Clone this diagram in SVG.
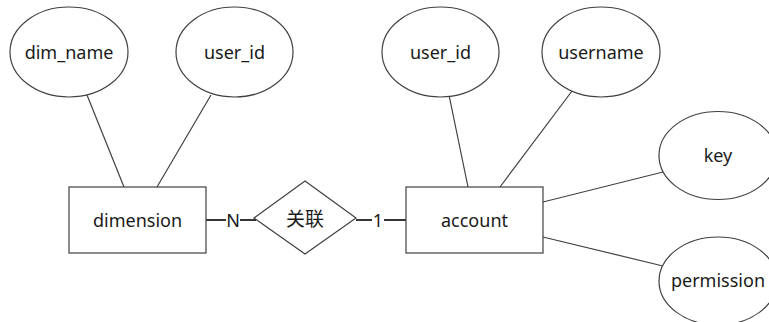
<svg xmlns="http://www.w3.org/2000/svg" width="769" height="322" viewBox="0 0 769 322">
  <style>
    .shape { fill: #ffffff; stroke: #404040; stroke-width: 1.2; }
    .edge { stroke: #404040; stroke-width: 1.2; fill: none; }
    .rel { stroke: #202020; stroke-width: 1.8; fill: none; }
    text { font-family: "Noto Sans", "Open Sans", "Noto Sans CJK SC", sans-serif; font-size: 18px; fill: #1a1a1a; text-anchor: middle; dominant-baseline: central; }
    .cjk { font-family: "Noto Sans CJK SC", sans-serif; font-size: 19px; }
  </style>
  <rect width="769" height="322" fill="#ffffff"/>

  <g id="connectors">
    <line class="edge" x1="87" y1="95" x2="124" y2="187"/>
    <line class="edge" x1="211" y1="95" x2="157" y2="187"/>
    <line class="edge" x1="449" y1="95" x2="468" y2="187"/>
    <line class="edge" x1="572" y1="91" x2="500" y2="187"/>
    <line class="edge" x1="543" y1="202" x2="663" y2="172"/>
    <line class="edge" x1="543" y1="237" x2="663" y2="266"/>
    <line class="rel" x1="206" y1="220" x2="226" y2="220"/>
    <line class="rel" x1="240" y1="220" x2="256" y2="220"/>
    <line class="rel" x1="356" y1="220" x2="372" y2="220"/>
    <line class="rel" x1="384" y1="220" x2="406" y2="220"/>
    <text x="233" y="220">N</text>
    <text x="378" y="220">1</text>
  </g>

  <g id="dimension">
    <rect class="shape" x="69" y="187" width="137" height="66"/>
    <text x="137.5" y="220">dimension</text>
  </g>

  <g id="dim_name">
    <ellipse class="shape" cx="69" cy="52" rx="59" ry="45"/>
    <text x="69" y="52">dim_name</text>
  </g>

  <g id="dimension_user_id">
    <ellipse class="shape" cx="234.5" cy="52" rx="58.5" ry="45"/>
    <text x="234.5" y="52">user_id</text>
  </g>

  <g id="relation">
    <polygon class="shape" points="305,181 356,218 305,254 254,218"/>
    <text class="cjk" x="305" y="217">关联</text>
  </g>

  <g id="account">
    <rect class="shape" x="406" y="187" width="137" height="66"/>
    <text x="474.5" y="220">account</text>
  </g>

  <g id="account_user_id">
    <ellipse class="shape" cx="440.5" cy="52" rx="58.5" ry="45"/>
    <text x="440.5" y="52">user_id</text>
  </g>

  <g id="username">
    <ellipse class="shape" cx="601" cy="52" rx="59" ry="45"/>
    <text x="601" y="52">username</text>
  </g>

  <g id="key">
    <ellipse class="shape" cx="718" cy="155.5" rx="59" ry="44"/>
    <text x="718" y="155">key</text>
  </g>

  <g id="permission">
    <ellipse class="shape" cx="718" cy="281" rx="59" ry="44"/>
    <text x="718" y="280">permission</text>
  </g>
</svg>
